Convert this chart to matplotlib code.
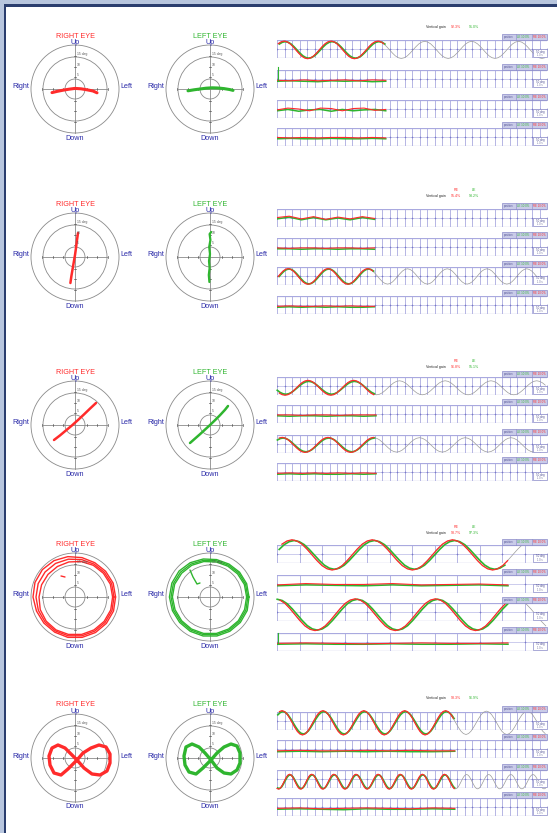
import numpy as np
import matplotlib.pyplot as plt
from matplotlib.patches import Rectangle, Circle

plt.rcParams['font.family'] = ['Liberation Sans', 'DejaVu Sans']

# ---- eye position plots (degrees; +x is toward the "Left" label) ----
ring_radii = [5, 16, 22]
tick_pos = [6, 11, 16.5]
tick_text = ["5", "10", "15 deg"]

# section 1: horizontal pursuit
re1_x = [-11.5, -9, -6, -3, 0, 3, 6, 9, 11]
re1_y = [-1.8, -1.2, -0.6, -0.1, 0.3, 0.1, -0.4, -1.0, -1.9]
le1_x = [-11, -8, -5, -2, 1, 4, 7, 10, 11.5]
le1_y = [-0.9, -0.4, 0.0, 0.4, 0.6, 0.5, 0.2, -0.3, -0.7]

# section 2: vertical pursuit
re2_x = [-2.3, -1.8, -1.2, -0.6, 0.0, 0.5, 1.0, 1.5]
re2_y = [-13, -9.5, -6, -2.5, 1, 4.5, 8.5, 12]
le2_x = [-0.3, -0.6, -0.2, -0.5, 0.0, -0.4, 0.2, -0.2, 0.6]
le2_y = [-12.5, -9, -5.5, -2, 1.5, 5, 8.5, 11.5, 12.5]

# section 3: oblique pursuit
re3_x = [-10.5, -7.5, -4.5, -1.5, 1.5, 4.5, 7.5, 10.5]
re3_y = [-7.5, -5.2, -2.7, -0.2, 2.5, 5.3, 8.2, 11]
le3_x = [-10, -7.5, -5, -2.5, 0, 2.5, 5, 7.5, 9]
le3_y = [-9, -6.8, -4.6, -2.3, 0, 2.4, 4.9, 7.6, 9.5]

# section 4: circular pursuit, radius read at each angle (outer / mid / inner edge of the band)
ring_ang = [0, 20, 40, 60, 80, 100, 120, 140, 160, 180, 200, 220, 240, 260, 280, 300, 320, 340, 360]
re4_r_out = [20.3, 20.3, 20.0, 19.8, 20.0, 20.5, 21.0, 21.3, 21.3, 21.0, 20.5, 20.3, 20.3, 20.5, 20.5, 20.5, 20.5, 20.5, 20.3]
re4_r_mid = [19.5, 19.5, 19.2, 19.0, 19.0, 19.2, 19.4, 19.5, 19.6, 19.5, 19.5, 19.5, 19.6, 19.7, 19.7, 19.7, 19.7, 19.7, 19.5]
re4_r_in = [18.8, 18.8, 18.5, 18.3, 18.0, 17.8, 17.6, 17.6, 17.8, 18.0, 18.5, 18.8, 19.0, 19.0, 19.0, 19.0, 19.0, 19.0, 18.8]
le4_r_out = [19.5, 19.5, 19.3, 19.0, 19.0, 19.3, 19.8, 20.2, 20.3, 20.3, 20.0, 19.8, 19.8, 19.8, 19.8, 19.8, 19.8, 19.8, 19.5]
le4_r_mid = [18.9, 18.9, 18.7, 18.4, 18.4, 18.6, 19.0, 19.3, 19.5, 19.5, 19.3, 19.1, 19.1, 19.1, 19.1, 19.1, 19.1, 19.1, 18.9]
le4_r_in = [18.3, 18.3, 18.0, 17.8, 17.8, 18.0, 18.3, 18.5, 18.8, 18.8, 18.6, 18.5, 18.5, 18.5, 18.5, 18.5, 18.5, 18.4, 18.3]
re4_mark_x = [-7, -5]
re4_mark_y = [10.5, 10]
le4_mark_x = [-10, -8.5, -6.5, -5]
le4_mark_y = [13.5, 10, 6.5, 7]

# section 5: figure-of-eight pursuit
re5_x = [1, 4, 8, 12, 15.5, 17.5, 17.5, 16, 12.5, 8.5, 4.5, 1, -2, -5, -8.5, -11.5, -13, -12.5, -10.5, -7, -3.5, 1]
re5_y = [-1, 2.5, 5, 6.5, 5.5, 2, -2.5, -6.5, -8.5, -8, -5, -1, 2, 5, 6.5, 5, 1, -3.5, -7.5, -8.5, -5.5, -1]
le5_x = [0.5, 3.5, 7, 10.5, 13.5, 15, 15, 13.5, 10.5, 7, 3.5, 0.5, -2.5, -5.5, -9, -12, -13, -12.5, -10.5, -7, -3.5, 0.5]
le5_y = [-1, 2.5, 5.5, 7, 6, 2.5, -2.5, -6, -8, -7.5, -5, -1, 2.5, 5.5, 7, 5.5, 1, -3.5, -7, -8, -5, -1]

# ---- trace strips (time axis 0..36, strip spans -1..1) ----
gain_re = ["92.3%", "95.4%", "96.8%", "98.7%", "98.3%"]
gain_le = ["91.0%", "93.2%", "95.1%", "97.3%", "96.9%"]
box_text = ["position", "LE 10.0%", "RE 10.0%"]
inner_text = ["50 deg", "1.0 s"]

sine_cycle = [0.0, 0.38, 0.71, 0.92, 1.0, 0.92, 0.71, 0.38,
              0.0, -0.38, -0.71, -0.92, -1.0, -0.92, -0.71, -0.38]
sine_rows = [(0, 0), (1, 2), (2, 0), (2, 2), (3, 0), (3, 2), (4, 0), (4, 2)]
sine_period = [6.25, 5.3, 6.1, 6.1, 10.7, 10.7, 5.45, 2.95]
sine_zero = [-0.61, 0.17, -3.5, -0.83, -0.68, -2.95, -0.69, 0.94]
sine_amp = [0.95, 0.85, 0.78, 0.8, 1.65, 1.75, 1.3, 0.8]
sine_mid = [-0.1, -0.05, -0.2, -0.1, -0.1, -0.3, -0.2, -0.3]
re_gain = [1.03, 1.02, 1.06, 1.04, 1.02, 1.01, 1.04, 1.03]
le_gain = [0.97, 0.98, 0.92, 0.96, 0.97, 0.98, 0.96, 0.95]
le_lag = [0.15, 0.12, 0.1, 0.12, 0.3, 0.3, 0.12, 0.08]

flat_rows = [(0, 1), (0, 2), (0, 3), (1, 0), (1, 1), (1, 3),
             (2, 1), (2, 3), (3, 1), (3, 3), (4, 1), (4, 3)]
flat_re = [
    [-0.15, -0.2, -0.1, -0.2, -0.15, -0.1, -0.2, -0.1, -0.15],
    [-0.1, 0.1, 0.0, -0.2, 0.1, 0.05, -0.2, 0.05, 0.1, -0.15, -0.05],
    [-0.05, -0.1, -0.05, -0.1, -0.05, -0.05, -0.1, -0.05, -0.1],
    [0.05, 0.2, -0.1, 0.15, -0.15, 0.1, -0.1, 0.15, -0.05],
    [-0.1, -0.15, -0.1, -0.1, -0.15, -0.1, -0.1, -0.15, -0.1],
    [-0.15, -0.1, -0.15, -0.15, -0.1, -0.15, -0.1, -0.15, -0.15],
    [-0.1, -0.1, -0.15, -0.1, -0.1, -0.15, -0.1, -0.1, -0.1],
    [-0.15, -0.1, -0.15, -0.1, -0.15, -0.1, -0.15, -0.1, -0.15],
    [-0.1, 0.05, -0.05, -0.05, 0.05, -0.1, -0.05, 0.0, -0.1],
    [-0.15, -0.1, -0.15, -0.2, -0.15, -0.1, -0.15, -0.15, -0.1],
    [-0.2, -0.15, -0.2, -0.2, -0.15, -0.2, -0.15, -0.2, -0.2],
    [-0.15, -0.1, -0.2, -0.15, -0.1, -0.15, -0.2, -0.1, -0.15],
]
flat_le = [
    [-0.25, -0.2, -0.25, -0.3, -0.2, -0.25, -0.2, -0.3, -0.25],
    [-0.2, -0.05, -0.25, -0.1, -0.05, -0.25, -0.05, -0.2, -0.1, -0.05, -0.2],
    [-0.2, -0.15, -0.2, -0.2, -0.15, -0.2, -0.2, -0.15, -0.2],
    [-0.1, 0.1, -0.2, 0.05, -0.2, 0.0, -0.2, 0.05, -0.15],
    [-0.2, -0.2, -0.25, -0.2, -0.2, -0.25, -0.2, -0.2, -0.25],
    [-0.25, -0.2, -0.25, -0.2, -0.25, -0.2, -0.25, -0.25, -0.2],
    [-0.2, -0.25, -0.2, -0.2, -0.25, -0.2, -0.2, -0.25, -0.2],
    [-0.25, -0.2, -0.25, -0.2, -0.25, -0.25, -0.2, -0.25, -0.2],
    [-0.2, -0.1, -0.15, -0.2, -0.1, -0.2, -0.15, -0.1, -0.2],
    [-0.25, -0.2, -0.25, -0.25, -0.2, -0.25, -0.25, -0.2, -0.25],
    [-0.3, -0.25, -0.3, -0.25, -0.3, -0.25, -0.3, -0.3, -0.25],
    [-0.25, -0.2, -0.25, -0.3, -0.2, -0.25, -0.25, -0.2, -0.25],
]
spike_rows = [(0, 1), (3, 3)]
spike_top = [1.3, 1.0]

# layout in pixels
W, H = 557, 833
header_y = [27, 196, 367, 533, 698]
strip_tops = [[40, 70, 100, 128], [209, 238, 267, 296], [377, 405, 435, 463],
              [545, 575, 603, 633], [712, 740, 770, 798]]
eye_cy = [89, 257, 425, 597, 758]
grid_step = [1, 1, 1, 3, 1]
trace_end = [14.5, 13.0, 13.2, 30.8, 23.7]

RED = '#ff2b2b'
GREEN = '#2fb52f'
TXT = '#2a2aa8'
RING = '#8a8a8a'
GRID = '#a9a9df'

fig = plt.figure(figsize=(W / 100, H / 100), dpi=100)
fig.patch.set_facecolor('white')


def px_axes(x, y, w, h):
    return fig.add_axes([x / W, 1 - (y + h) / H, w / W, h / H])


# canvas for frame and small labels, in pixel coords
canvas = px_axes(0, 0, W, H)
canvas.set_xlim(0, W)
canvas.set_ylim(H, 0)
canvas.axis('off')
canvas.set_zorder(5)
canvas.add_patch(Rectangle((0, 0), W, 4, color='#b8c6de', lw=0))
canvas.add_patch(Rectangle((0, 0), 3.5, H, color='#b8c6de', lw=0))
canvas.add_patch(Rectangle((3.5, 4), W, 2.6, color='#2b3e6e', lw=0))
canvas.add_patch(Rectangle((3.5, 4), 2.8, H, color='#2b3e6e', lw=0))


def eye_plot(cx, cy, title, color, xs_list, ys_list, lw):
    ax = px_axes(cx - 64, cy - 64, 128, 128)
    ax.set_xlim(-32, 32)
    ax.set_ylim(-32, 32)
    ax.axis('off')
    for r in ring_radii:
        ax.add_patch(Circle((0, 0), r, fill=False, ec=RING, lw=0.6))
    ax.plot([0, 0], [-22, 22], color=RING, lw=0.6)
    ax.plot([-16, 16], [0, 0], color=RING, lw=0.6)
    for t in tick_pos:
        for s in (-1, 1):
            ax.plot([s * t, s * t], [-0.7, 0.7], color='#555555', lw=0.5)
            ax.plot([-0.7, 0.7], [s * t, s * t], color='#555555', lw=0.5)
    for t, lab in zip(tick_pos, tick_text):
        ax.text(0.8, t + 0.2, lab, fontsize=2.4, color='#555555', va='bottom')
    ax.text(0, 26.5, title, color=color, ha='center', va='center', fontsize=5.2)
    ax.text(0, 23.3, 'Up', color=TXT, ha='center', va='center', fontsize=5.2)
    ax.text(0, -24.5, 'Down', color=TXT, ha='center', va='center', fontsize=5.2)
    ax.text(-22.8, 1, 'Right', color=TXT, ha='right', va='center', fontsize=5.2)
    ax.text(22.8, 1, 'Left', color=TXT, ha='left', va='center', fontsize=5.2)
    for xs, ys in zip(xs_list, ys_list):
        ax.plot(xs, ys, color=color, lw=lw, solid_capstyle='round', clip_on=False)


ang = np.deg2rad(ring_ang)
re4 = [np.array(v) * np.cos(ang) for v in (re4_r_out, re4_r_mid, re4_r_in)] + [re4_mark_x]
re4y = [np.array(v) * np.sin(ang) for v in (re4_r_out, re4_r_mid, re4_r_in)] + [re4_mark_y]
le4 = [np.array(v) * np.cos(ang) for v in (le4_r_out, le4_r_mid, le4_r_in)] + [le4_mark_x]
le4y = [np.array(v) * np.sin(ang) for v in (le4_r_out, le4_r_mid, le4_r_in)] + [le4_mark_y]

right_eye = [([re1_x], [re1_y], 2.2), ([re2_x], [re2_y], 1.8), ([re3_x], [re3_y], 1.8),
             (re4, re4y, 1.0), ([re5_x], [re5_y], 2.4)]
left_eye = [([le1_x], [le1_y], 2.2), ([le2_x], [le2_y], 1.6), ([le3_x], [le3_y], 1.8),
            (le4, le4y, 1.0), ([le5_x], [le5_y], 2.4)]

for s in range(5):
    xs, ys, lw = right_eye[s]
    eye_plot(75, eye_cy[s], 'RIGHT EYE', RED, xs, ys, lw)
    xs, ys, lw = left_eye[s]
    eye_plot(210, eye_cy[s], 'LEFT EYE', GREEN, xs, ys, lw)


def wave(i, gain, lag):
    n = len(sine_cycle)
    P = sine_period[i]
    z = sine_zero[i] + lag
    k0 = int(np.floor(-z / P)) - 1
    k1 = int(np.ceil((36 - z) / P)) + 1
    xs, ys = [], []
    for k in range(k0, k1):
        for j in range(n):
            xs.append(z + (k + j / n) * P)
            ys.append(sine_mid[i] + gain * sine_amp[i] * sine_cycle[j])
    return np.array(xs), np.array(ys)


for s in range(5):
    hy = header_y[s]
    canvas.text(436, hy, 'Vertical gain', fontsize=2.6, color='#222222', ha='center', va='center')
    canvas.text(456, hy, gain_re[s], fontsize=2.6, color=RED, ha='center', va='center')
    canvas.text(474, hy, gain_le[s], fontsize=2.6, color=GREEN, ha='center', va='center')
    if s in (1, 2, 3):
        canvas.text(456, hy - 6, 'RE', fontsize=2.6, color=RED, ha='center', va='center')
        canvas.text(474, hy - 6, 'LE', fontsize=2.6, color=GREEN, ha='center', va='center')

    for r in range(4):
        top = strip_tops[s][r]
        ax = px_axes(277, top, 270, 18)
        ax.set_xlim(0, 36)
        ax.set_ylim(-1, 1)
        ax.axis('off')
        for xv in np.arange(0, 36.01, grid_step[s]):
            ax.plot([xv, xv], [-1, 1], color=GRID, lw=0.6)
        for yv in (-1, 1):
            ax.plot([0, 36], [yv, yv], color=GRID, lw=0.9)
        ax.plot([0, 36], [0, 0], color='#c4c4ea', lw=0.6)
        for xv in np.arange(0, 36.01, grid_step[s]):
            ax.plot([xv], [0], marker='+', ms=2, color='#7a7ac8', mew=0.4)

        end = trace_end[s]
        if (s, r) in sine_rows:
            i = sine_rows.index((s, r))
            tx, ty = wave(i, 1.0, 0.0)
            m = (tx >= 0) & (tx <= 36)
            ax.plot(tx[m], ty[m], color='#9a9a9a', lw=0.5, clip_on=False)
            gx, gy = wave(i, le_gain[i], le_lag[i])
            m = (gx >= 0) & (gx <= end)
            ax.plot(gx[m], gy[m], color=GREEN, lw=1.2, clip_on=False)
            rx, ry = wave(i, re_gain[i], 0.0)
            m = (rx >= 0) & (rx <= end)
            ax.plot(rx[m], ry[m], color=RED, lw=0.9, clip_on=False)
        else:
            i = flat_rows.index((s, r))
            ax.plot(np.linspace(0, end, len(flat_le[i])), flat_le[i], color=GREEN, lw=1.1)
            ax.plot(np.linspace(0, end, len(flat_re[i])), flat_re[i], color=RED, lw=0.8)
            if (s, r) in spike_rows:
                ax.plot([0.15, 0.15], [flat_le[i][0], spike_top[spike_rows.index((s, r))]],
                        color=GREEN, lw=0.8, clip_on=False)

        # label box above the strip
        canvas.add_patch(Rectangle((502, top - 6), 45, 6, fc='#c9cbe8', ec='#8a8ac8', lw=0.5))
        canvas.text(509, top - 3, box_text[0], fontsize=2.0, color='#5a5a9a', ha='center', va='center')
        canvas.text(523, top - 3, box_text[1], fontsize=2.0, color=GREEN, ha='center', va='center')
        canvas.text(539.5, top - 3, box_text[2], fontsize=2.0, color=RED, ha='center', va='center')
        canvas.plot([516, 516], [top - 6, top], color='#8a8ac8', lw=0.4)
        canvas.plot([531.5, 531.5], [top - 6, top], color='#8a8ac8', lw=0.4)
        # small scale box inside the strip
        canvas.add_patch(Rectangle((533, top + 9), 14, 8, fc='white', ec='#8a8ac8', lw=0.5))
        canvas.text(540, top + 11.5, inner_text[0], fontsize=2.0, color='#4a4a90', ha='center', va='center')
        canvas.text(540, top + 15, inner_text[1], fontsize=1.8, color='#6a6a9a', ha='center', va='center')

fig.savefig('out.png', dpi=100, facecolor='white')
